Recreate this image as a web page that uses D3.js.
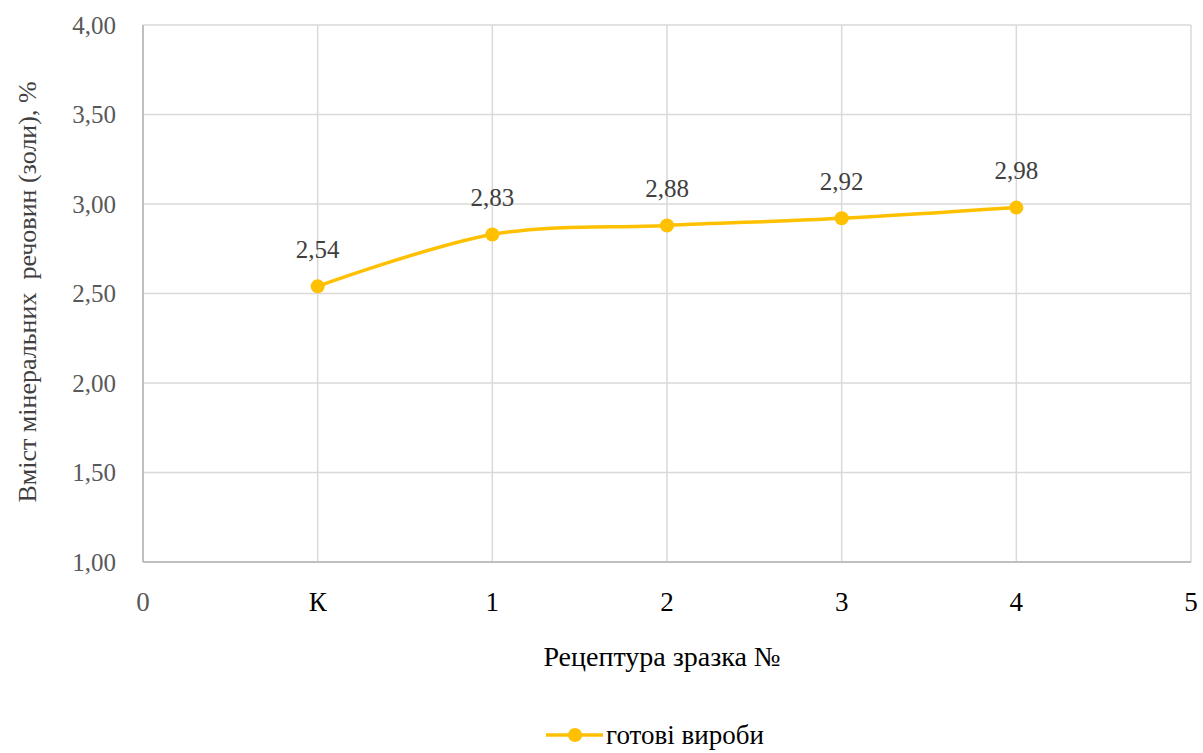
<!DOCTYPE html>
<html><head><meta charset="utf-8">
<script src="https://cdn.jsdelivr.net/npm/d3@7"></script>
<style>body{margin:0;background:#fff}svg{display:block}
svg text{font-family:"Liberation Serif","Times New Roman","DejaVu Serif",serif}</style>
</head><body>
<svg id="c" width="1203" height="753"></svg>
<script>
const xTickLabels = ["0","К","1","2","3","4","5"];
const categories = ["К","1","2","3","4"];
const values = [2.54, 2.83, 2.88, 2.92, 2.98];
const yTicks = [1.0,1.5,2.0,2.5,3.0,3.5,4.0];
const seriesName = "готові вироби";
const xTitle = "Рецептура зразка №";
const yTitle = "Вміст мінеральних  речовин (золи), %";

const svg = d3.select("#c");
const L=143, R=1191, T=25, B=562;
const x = d3.scaleLinear().domain([0,6]).range([L,R]);
const y = d3.scaleLinear().domain([1,4]).range([B,T]);
const fmt = v => v.toFixed(2).replace(".",",");

svg.append("g").selectAll("line").data(yTicks.filter(v=>v>1)).join("line")
  .attr("x1",L).attr("x2",R).attr("y1",d=>y(d)).attr("y2",d=>y(d))
  .attr("stroke","#d9d9d9").attr("stroke-width",1.5);
svg.append("g").selectAll("line").data(d3.range(1,7)).join("line")
  .attr("x1",d=>x(d)).attr("x2",d=>x(d)).attr("y1",T).attr("y2",B)
  .attr("stroke","#d9d9d9").attr("stroke-width",1.5);
svg.append("line").attr("x1",L).attr("x2",L).attr("y1",T).attr("y2",B).attr("stroke","#bfbfbf").attr("stroke-width",2);
svg.append("line").attr("x1",L).attr("x2",R).attr("y1",B).attr("y2",B).attr("stroke","#bfbfbf").attr("stroke-width",2);

svg.append("g").selectAll("text").data(yTicks).join("text")
  .attr("x",116).attr("y",d=>y(d)).attr("dy","0.35em").attr("text-anchor","end")
  .attr("font-size",25).attr("fill","#595959").text(fmt);
svg.append("g").selectAll("text").data(xTickLabels).join("text")
  .attr("x",(d,i)=>x(i)).attr("y",602).attr("dy","0.35em").attr("text-anchor","middle")
  .attr("font-size",27).attr("fill",(d,i)=>i===0?"#595959":"#000").text(d=>d);

svg.append("text").attr("x",662).attr("y",656).attr("dy","0.35em").attr("text-anchor","middle")
  .attr("font-size",28).attr("fill","#000").text(xTitle);
svg.append("text").attr("transform","translate(27,292) rotate(-90)").attr("dy","0.35em").attr("text-anchor","middle")
  .attr("font-size",26).attr("fill","#404040").style("white-space","pre").text(yTitle);

const pts = categories.map((c,i)=>({c, v:values[i], xi:i+1}));
const line = d3.line().x(d=>x(d.xi)).y(d=>y(d.v)).curve(d3.curveCardinal.tension(0));
svg.append("path").datum(pts).attr("d",line).attr("fill","none").attr("stroke","#ffc000").attr("stroke-width",3.5);
svg.append("g").selectAll("circle").data(pts).join("circle")
  .attr("cx",d=>x(d.xi)).attr("cy",d=>y(d.v)).attr("r",7).attr("fill","#ffc000");
svg.append("g").selectAll("text").data(pts).join("text")
  .attr("x",d=>x(d.xi)).attr("y",d=>y(d.v)-37).attr("dy","0.35em").attr("text-anchor","middle")
  .attr("font-size",25).attr("fill","#404040").text(d=>fmt(d.v));

const lg = svg.append("g");
lg.append("line").attr("x1",546).attr("x2",603).attr("y1",735).attr("y2",735).attr("stroke","#ffc000").attr("stroke-width",3.5);
lg.append("circle").attr("cx",575).attr("cy",735).attr("r",7).attr("fill","#ffc000");
lg.append("text").attr("x",606).attr("y",735).attr("dy","0.35em").attr("font-size",27).attr("fill","#000").text(seriesName);
</script>
</body></html>
